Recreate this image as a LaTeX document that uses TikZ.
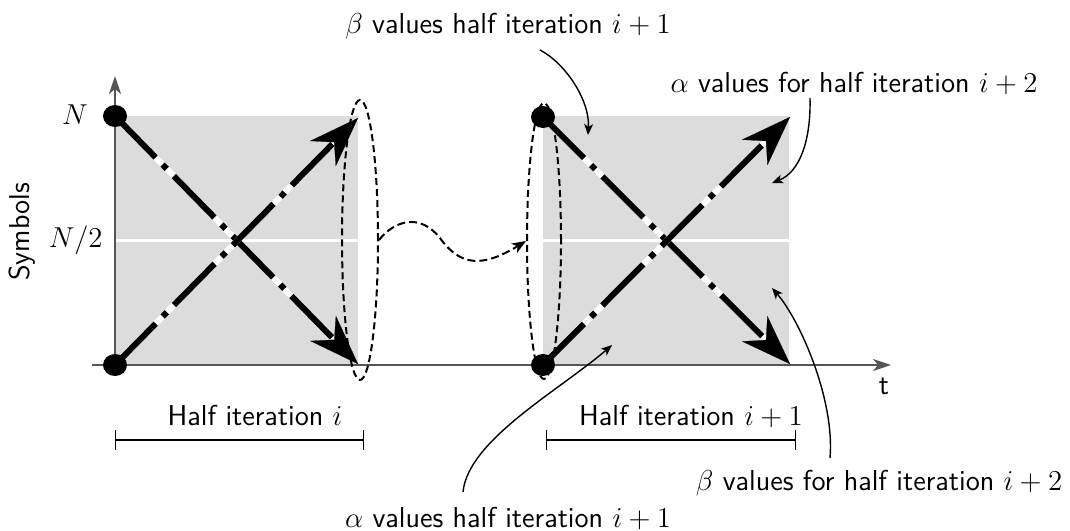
\documentclass[tikz,border=0pt]{standalone}
\usepackage{fontspec}
\usetikzlibrary{arrows.meta,shapes.geometric}
\definecolor{areagray}{HTML}{DCDCDC}
\definecolor{axisgray}{HTML}{555555}
\begin{document}
\begin{tikzpicture}[x=0.5pt,y=-0.5pt,font=\fontsize{14.4}{17}\selectfont\sffamily]
\tikzset{
  area/.style={fill=areagray,draw=none},
  midline/.style={white,line width=1.5pt},
  axis/.style={draw=axisgray,line width=0.8pt,-{Stealth[length=9pt,width=6pt,inset=2.5pt]}},
  dot/.style={ellipse,fill=black,inner sep=0pt,minimum width=12pt,minimum height=11pt},
  under/.style={white,line width=3pt,shorten >=16pt},
  flow/.style={black,line width=3pt,dash pattern=on 29pt off 5pt on 3pt off 5pt,
    -{Stealth[length=25pt,width=18pt,inset=8pt,line width=0.1pt]}},
  group/.style={ellipse,draw,line width=1pt,dash pattern=on 3.5pt off 2pt,inner sep=0pt},
  hop/.style={line width=1pt,dash pattern=on 4pt off 2pt,-{Stealth[length=7pt,width=5.5pt,inset=2pt]}},
  note/.style={line width=0.7pt,-{Stealth[length=5.5pt,width=4.5pt,inset=1.5pt]}},
  span/.style={line width=0.6pt,{Bar[width=10pt]}-{Bar[width=10pt]}},
  lbl/.style={inner sep=0pt,anchor=base},
}
\useasboundingbox (0,0) rectangle (1070,530);

% shaded areas
\fill[area] (115,116) rectangle (358,365);
\fill[area] (543,116) rectangle (789,365);
\draw[midline] (115,240) -- (358,240);
\draw[midline] (543,240) -- (789,240);

% axes
\coordinate (yo) at (115,376);
\coordinate (yt) at (115,76);
\coordinate (xo) at (92,365);
\coordinate (xt) at (891,365);
\draw[axis] (yo) -- (yt);
\draw[axis] (xo) -- (xt);

% corners
\coordinate (l1) at (115,116);
\coordinate (l2) at (115,365);
\coordinate (l3) at (358,118);
\coordinate (l4) at (358,364);
\coordinate (r1) at (543,117);
\coordinate (r2) at (543,365);
\coordinate (r3) at (790,117);
\coordinate (r4) at (790,364);

% groups
\node[group,minimum width=18pt,minimum height=140pt] (g1) at (360,240) {};
\node[group,minimum width=17pt,minimum height=138pt] (g2) at (544,241) {};

% flows
\draw[under] (l1) -- (l4);
\draw[flow] (l1) -- (l4);
\draw[under] (l2) -- (l3);
\draw[flow] (l2) -- (l3);
\draw[under] (r1) -- (r4);
\draw[flow] (r1) -- (r4);
\draw[under] (r2) -- (r3);
\draw[flow] (r2) -- (r3);

% transfer
\draw[hop] (g1.east) .. controls (395,220) and (420,213) .. (440,238)
  .. controls (460,266) and (482,268) .. (g2.west);

% dots
\node[dot] (d1) at (l1) {};
\node[dot] (d2) at (l2) {};
\node[dot] (d3) at (r1) {};
\node[dot] (d4) at (r2) {};

% axis labels
\node[anchor=east,inner sep=0pt] (nN) at (88,115) {$N$};
\node[anchor=east,inner sep=0pt] (nN2) at (103,240) {$N/2$};
\node[rotate=90,inner sep=0pt] (sym) at (22,232) {Symbols};
\node[inner sep=0pt] (tl) at (884,386) {t};

% spans
\coordinate (s1a) at (115,440);
\coordinate (s1b) at (364,440);
\coordinate (s2a) at (546,440);
\coordinate (s2b) at (796,440);
\draw[span] (s1a) -- (s1b);
\draw[span] (s2a) -- (s2b);
\node[lbl] (h1) at (255,425) {Half iteration $i$};
\node[lbl] (h2) at (691,425) {Half iteration $i+1$};

% annotations
\node[lbl] (tb) at (508,33) {$\beta$ values half iteration $i+1$};
\node[lbl] (ta) at (854,92) {$\alpha$ values for half iteration $i+2$};
\node[lbl] (bb) at (879,490) {$\beta$ values for half iteration $i+2$};
\node[lbl] (ba) at (508,527) {$\alpha$ values half iteration $i+1$};

\coordinate (a1s) at (540,50);
\coordinate (a1e) at (588,135);
\draw[note] (a1s) .. controls (565,63) and (590,100) .. (a1e);
\coordinate (a2s) at (810,98);
\coordinate (a2e) at (772,183);
\draw[note] (a2s) .. controls (811,140) and (800,172) .. (a2e);
\coordinate (a3s) at (463,492);
\coordinate (a3e) at (612,345);
\draw[note] (a3s) .. controls (468,440) and (560,390) .. (a3e);
\coordinate (a4s) at (830,458);
\coordinate (a4e) at (772,288);
\draw[note] (a4s) .. controls (835,400) and (800,320) .. (a4e);
\end{tikzpicture}
\end{document}
